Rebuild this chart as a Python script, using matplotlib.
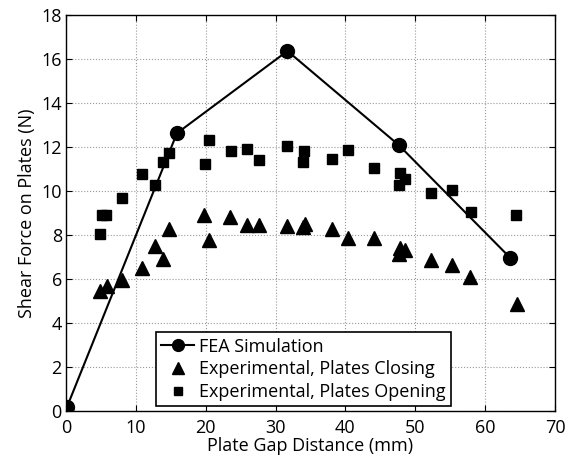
import numpy as np
import matplotlib
matplotlib.use('Agg')
import matplotlib.pyplot as plt

plt.rcParams['font.family'] = ['Open Sans', 'DejaVu Sans']

# FEA simulation
fea_x = [0.14, 15.88, 31.7, 47.64, 63.57]
fea_y = [0.18, 12.63, 16.37, 12.09, 6.97]

# Experimental, plates closing
close_x = [4.8, 5.9, 8.0, 10.87, 12.78, 13.83, 14.69, 19.8, 20.5, 23.5, 25.9, 27.7,
           31.7, 33.9, 34.2, 38.1, 40.4, 44.1, 47.6, 47.8, 48.5, 52.2, 55.2, 57.9, 64.5]
close_y = [5.45, 5.7, 5.94, 6.5, 7.48, 6.9, 8.26, 8.9, 7.79, 8.82, 8.48, 8.48,
           8.39, 8.36, 8.5, 8.27, 7.88, 7.88, 7.15, 7.4, 7.3, 6.88, 6.62, 6.09, 4.85]

# Experimental, plates opening
open_x = [4.9, 5.15, 5.77, 8.01, 10.87, 12.78, 13.83, 14.69, 19.93, 20.5, 23.56, 25.9,
          27.7, 31.7, 33.9, 34.1, 38.1, 40.44, 44.1, 47.64, 47.83, 48.5, 52.2, 55.2, 57.94, 64.4]
open_y = [8.06, 8.9, 8.9, 9.67, 10.76, 10.26, 11.33, 11.73, 11.24, 12.3, 11.82, 11.92,
          11.42, 12.03, 11.32, 11.82, 11.44, 11.85, 11.03, 10.26, 10.84, 10.56, 9.89, 10.05, 9.07, 8.9]

fig = plt.figure(figsize=(5.87, 4.59), dpi=100)
ax = fig.add_axes([0.1124, 0.1046, 0.8331, 0.8624])

ax.plot(fea_x, fea_y, color='black', lw=1.5, marker='o', markersize=10, label='FEA Simulation', zorder=3)
ax.plot(close_x, close_y, ls='none', color='black', marker='^', markersize=9.5,
        label='Experimental, Plates Closing', zorder=3)
ax.plot(open_x, open_y, ls='none', color='black', marker='s', markersize=7.5,
        label='Experimental, Plates Opening', zorder=3)

ax.set_xlim(0, 70)
ax.set_ylim(0, 18)
ax.set_xticks(np.arange(0, 71, 10))
ax.set_yticks(np.arange(0, 19, 2))
ax.grid(True, ls=':', color='#999999', lw=0.8)
ax.tick_params(direction='in', top=True, right=True, labelsize=13, length=4)
ax.tick_params(axis='x', pad=6)
ax.tick_params(axis='y', pad=3)
for s in ax.spines.values():
    s.set_linewidth(1.0)

ax.set_xlabel('Plate Gap Distance (mm)', fontsize=13, labelpad=0)
ax.set_ylabel('Shear Force on Plates (N)', fontsize=13, labelpad=4)

leg = ax.legend(loc='lower left', bbox_to_anchor=(0.184, 0.012), fontsize=13,
                fancybox=False, framealpha=1, edgecolor='black', borderpad=0.3,
                handlelength=1.8, handletextpad=0.3, labelspacing=0.25, borderaxespad=0,
                markerscale=0.85)
leg.get_frame().set_linewidth(1.2)

fig.savefig('out.png', dpi=100)
